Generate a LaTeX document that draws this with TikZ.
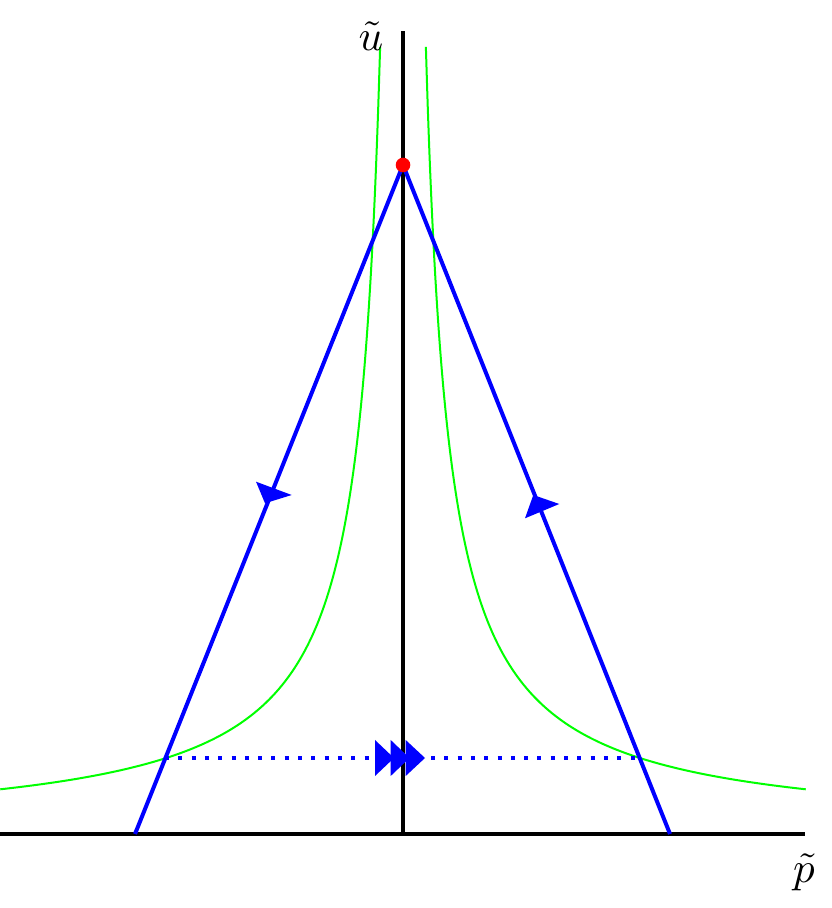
\documentclass[tikz,border=0pt]{standalone}
\usepackage{amsmath}
\begin{document}
\begin{tikzpicture}[x=1pt,y=1pt,
  axisline/.style={line width=3.6pt,black},
  bluepath/.style={line width=4pt,blue},
  greencurve/.style={line width=2pt,green},
  dotline/.style={line width=4pt,blue,dash pattern=on 4pt off 9.3pt},
  headtri/.style={fill=blue,draw=none},
  lbl/.style={inner sep=0pt,scale=4.3}]
\useasboundingbox (0,0) rectangle (832,908);
% green curves
\draw[greencurve] plot[domain=0.2287:4.03,samples=200,smooth] ({403-100*\x},{74+180/\x});
\draw[greencurve] plot[domain=0.2287:4.03,samples=200,smooth] ({403+100*\x},{74+180/\x});
% axes
\coordinate (xl) at (0,74);
\coordinate (xr) at (805,74);
\coordinate (yb) at (403,74);
\coordinate (yt) at (403,877);
\draw[axisline] (xl) -- (xr);
\draw[axisline] (yb) -- (yt);
% blue lines
\coordinate (apex) at (403,743);
\coordinate (bl) at (135,74);
\coordinate (br) at (670,74);
\draw[bluepath] (bl) -- (apex) -- (br);
% dotted line
\coordinate (dl) at (165,150);
\coordinate (dr) at (640,150);
\draw[dotline] (dl) -- (dr);
% arrowheads on blue lines
\fill[headtri] (256,426.3) -- (291.7,413) -- (265,404.7) -- cycle;
\fill[headtri] (533.3,413) -- (559.3,404) -- (525,389.7) -- cycle;
% triple arrowhead
\fill[headtri] (375,132) -- (375,168) -- (394,150) -- cycle;
\fill[headtri] (390.7,132) -- (390.7,168) -- (409.5,150) -- cycle;
\fill[headtri] (405.7,132) -- (405.7,168) -- (425,150) -- cycle;
% red dot
\node[circle,fill=red,inner sep=0pt,minimum size=14.6pt] (dot) at (apex) {};
% labels
\node[lbl] (ulab) at (371,872) {$\tilde{u}$};
\node[lbl] (plab) at (804,36) {$\tilde{p}$};
\end{tikzpicture}
\end{document}
